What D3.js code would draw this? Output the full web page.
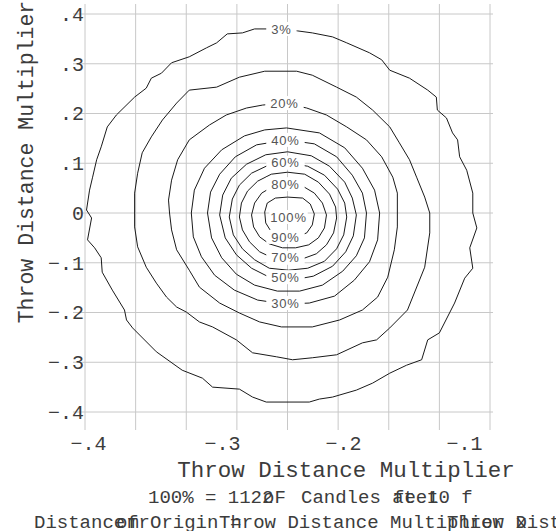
<!DOCTYPE html>
<html>
<head>
<meta charset="utf-8">
<script src="https://cdn.jsdelivr.net/npm/d3@7"></script>
<style>
body { margin: 0; background: #fff; }
svg { display: block; }
text { font-family: "Liberation Mono", "Courier New", monospace; fill: #3c3c3c; }
.grid line { stroke: #c8c8c8; stroke-width: 1; }
.contour { fill: none; stroke: #1a1a1a; stroke-width: 1; }
.lbl text { font-family: "Liberation Sans", Arial, sans-serif; font-size: 13px; fill: #555; letter-spacing: 0.8px; }
</style>
</head>
<body>
<svg width="556" height="531"></svg>
<script>
// grid + tick values (throw distance multiplier)
var gridValues = [-0.4, -0.3, -0.2, -0.1, 0, 0.1, 0.2, 0.3, 0.4];
var yTickValues = [0.4, 0.3, 0.2, 0.1, 0, -0.1, -0.2, -0.3, -0.4];
var xTickValues = [-0.4, -0.3, -0.2, -0.1];

// isocandela contours
var contour3 = [[-0.016,0.370],[0.020,0.366],[0.049,0.362],[0.089,0.354],[0.117,0.342],[0.162,0.322],[0.186,0.308],[0.202,0.287],[0.241,0.271],[0.277,0.247],[0.294,0.233],[0.296,0.207],[0.314,0.191],[0.326,0.161],[0.336,0.147],[0.340,0.113],[0.354,0.086],[0.366,0.040],[0.366,0],[0.374,-0.030],[0.360,-0.070],[0.366,-0.111],[0.350,-0.131],[0.330,-0.181],[0.300,-0.241],[0.277,-0.255],[0.265,-0.295],[0.235,-0.306],[0.202,-0.322],[0.168,-0.342],[0.136,-0.356],[0.089,-0.370],[0.063,-0.374],[0.043,-0.380],[-0.042,-0.380],[-0.069,-0.370],[-0.095,-0.354],[-0.148,-0.350],[-0.168,-0.332],[-0.208,-0.316],[-0.259,-0.279],[-0.306,-0.231],[-0.318,-0.215],[-0.322,-0.195],[-0.346,-0.155],[-0.366,-0.119],[-0.368,-0.090],[-0.381,-0.070],[-0.395,-0.054],[-0.387,-0.010],[-0.397,0.006],[-0.391,0.046],[-0.385,0.072],[-0.377,0.107],[-0.368,0.133],[-0.356,0.173],[-0.338,0.197],[-0.302,0.233],[-0.279,0.251],[-0.269,0.271],[-0.249,0.281],[-0.229,0.302],[-0.194,0.314],[-0.160,0.332],[-0.140,0.342],[-0.119,0.360],[-0.089,0.362],[-0.065,0.370]];
var contour10 = [[-0.045,0.285],[0.018,0.285],[0.049,0.277],[0.097,0.253],[0.136,0.233],[0.168,0.207],[0.202,0.173],[0.221,0.141],[0.241,0.107],[0.255,0.072],[0.271,0.032],[0.281,0],[0.281,-0.040],[0.271,-0.109],[0.237,-0.195],[0.202,-0.231],[0.176,-0.255],[0.148,-0.261],[0.097,-0.285],[0.049,-0.291],[0.010,-0.295],[-0.022,-0.289],[-0.069,-0.281],[-0.101,-0.255],[-0.148,-0.229],[-0.174,-0.219],[-0.200,-0.199],[-0.219,-0.189],[-0.239,-0.169],[-0.259,-0.141],[-0.279,-0.109],[-0.296,-0.068],[-0.302,-0.028],[-0.302,0],[-0.302,0.040],[-0.296,0.080],[-0.287,0.121],[-0.269,0.153],[-0.247,0.187],[-0.219,0.221],[-0.194,0.247],[-0.140,0.253],[-0.095,0.273]];
var contour20 = [[-0.006,0.221],[0.038,0.211],[0.077,0.197],[0.117,0.173],[0.156,0.147],[0.186,0.113],[0.208,0.072],[0.217,0.040],[0.217,0],[0.217,-0.028],[0.211,-0.074],[0.198,-0.129],[0.178,-0.169],[0.148,-0.195],[0.103,-0.215],[0.049,-0.229],[-0.012,-0.229],[-0.055,-0.219],[-0.095,-0.201],[-0.134,-0.181],[-0.174,-0.149],[-0.194,-0.115],[-0.219,-0.074],[-0.229,-0.034],[-0.233,0],[-0.235,0.026],[-0.229,0.066],[-0.217,0.107],[-0.194,0.147],[-0.154,0.177],[-0.121,0.197],[-0.081,0.211],[-0.049,0.217]];
var contour30 = [[-0.002,0.171],[0.063,0.161],[0.113,0.131],[0.148,0.090],[0.172,0.046],[0.182,0],[0.178,-0.054],[0.162,-0.098],[0.132,-0.135],[0.093,-0.167],[0.043,-0.181],[-0.006,-0.183],[-0.059,-0.175],[-0.105,-0.155],[-0.144,-0.125],[-0.170,-0.088],[-0.186,-0.048],[-0.190,0],[-0.184,0.046],[-0.164,0.090],[-0.130,0.127],[-0.085,0.155],[-0.045,0.167]];
var contour40 = [[-0.002,0.147],[0.053,0.139],[0.097,0.113],[0.128,0.076],[0.148,0.040],[0.156,0],[0.152,-0.050],[0.136,-0.086],[0.109,-0.117],[0.069,-0.145],[0.024,-0.157],[-0.020,-0.157],[-0.065,-0.145],[-0.101,-0.123],[-0.130,-0.090],[-0.150,-0.050],[-0.158,0],[-0.152,0.042],[-0.134,0.078],[-0.103,0.113],[-0.061,0.137]];
var contour50 = [[0,0.123],[0.047,0.115],[0.083,0.094],[0.113,0.062],[0.128,0.030],[0.136,-0.004],[0.130,-0.046],[0.115,-0.078],[0.089,-0.107],[0.051,-0.127],[0.008,-0.135],[-0.036,-0.129],[-0.071,-0.111],[-0.101,-0.084],[-0.123,-0.050],[-0.134,-0.004],[-0.128,0.036],[-0.111,0.070],[-0.081,0.098],[-0.043,0.117]];
var contour60 = [[0,0.101],[0.040,0.094],[0.073,0.076],[0.099,0.048],[0.113,0.020],[0.117,-0.008],[0.111,-0.044],[0.097,-0.072],[0.073,-0.097],[0.040,-0.111],[0.002,-0.115],[-0.036,-0.111],[-0.065,-0.094],[-0.089,-0.072],[-0.107,-0.044],[-0.115,-0.008],[-0.109,0.028],[-0.095,0.056],[-0.071,0.080],[-0.038,0.096]];
var contour70 = [[0,0.082],[0.034,0.078],[0.061,0.062],[0.083,0.038],[0.095,0.012],[0.097,-0.010],[0.091,-0.040],[0.077,-0.064],[0.057,-0.082],[0.030,-0.092],[0,-0.094],[-0.030,-0.090],[-0.055,-0.078],[-0.075,-0.058],[-0.089,-0.034],[-0.095,-0.008],[-0.091,0.020],[-0.079,0.044],[-0.059,0.064],[-0.032,0.078]];
var contour80 = [[0.002,0.058],[0.030,0.054],[0.053,0.040],[0.069,0.020],[0.077,-0.004],[0.073,-0.030],[0.061,-0.050],[0.042,-0.064],[0.016,-0.070],[-0.010,-0.070],[-0.036,-0.062],[-0.055,-0.048],[-0.067,-0.028],[-0.071,-0.004],[-0.065,0.020],[-0.051,0.040],[-0.028,0.054]];
var contour90 = [[0,0.032],[0.030,0.030],[0.045,0.018],[0.053,-0.002],[0.049,-0.024],[0.038,-0.040],[0.018,-0.048],[-0.010,-0.048],[-0.032,-0.038],[-0.043,-0.020],[-0.045,0.002],[-0.040,0.020],[-0.024,0.030]];

// contour labels
var labelText = ["3%", "20%", "40%", "60%", "80%", "100%", "90%", "70%", "50%", "30%"];
var labelX = [-0.012, -0.006, -0.004, -0.004, -0.004, 0.002, -0.004, -0.004, -0.004, -0.004];
var labelY = [0.370, 0.221, 0.147, 0.101, 0.058, -0.008, -0.048, -0.090, -0.129, -0.181];

// footnote pieces, as they come out overlapped in the picture
var foot1 = ["100% = 1122", "oF", "Candles at", "feet", "10 f"];
var foot1X = [148, 263, 301, 393, 427];
var foot2 = ["Distance", "om", "fr", "Origin", "Throw Distance Multiplier x", "=", "Throw Distance"];
var foot2X = [34, 116, 127, 150, 219, 230, 447];

var svg = d3.select("svg");

var x = d3.scaleLinear().domain([-0.4, 0.4]).range([85, 490]);
var y = d3.scaleLinear().domain([-0.4, 0.4]).range([412, 14]);

// gridlines
var grid = svg.append("g").attr("class", "grid");
grid.selectAll(".v").data(gridValues).enter().append("line")
    .attr("x1", function(d) { return x(d); })
    .attr("x2", function(d) { return x(d); })
    .attr("y1", y(0.4) - 10)
    .attr("y2", y(-0.4) + 18);
grid.selectAll(".h").data(gridValues).enter().append("line")
    .attr("y1", function(d) { return y(d); })
    .attr("y2", function(d) { return y(d); })
    .attr("x1", x(-0.4) - 12)
    .attr("x2", x(0.4) + 3);

// contours
var contours = [contour3, contour10, contour20, contour30, contour40, contour50, contour60, contour70, contour80, contour90];
var line = d3.line()
    .x(function(d) { return x(d[0]); })
    .y(function(d) { return y(d[1]); })
    .curve(d3.curveLinearClosed);

svg.append("g").selectAll("path").data(contours).enter().append("path")
    .attr("class", "contour")
    .attr("d", line);

// labels with white boxes
var lbl = svg.append("g").attr("class", "lbl")
    .selectAll("g").data(labelText).enter().append("g")
    .attr("transform", function(d, i) { return "translate(" + x(labelX[i]) + "," + y(labelY[i]) + ")"; });

lbl.append("text")
    .attr("text-anchor", "middle")
    .attr("dy", "0.36em")
    .text(function(d) { return d; });

lbl.each(function(d) {
    var g = d3.select(this);
    var bb = g.select("text").node().getBBox();
    var pad = d === "100%" ? 1 : 5;
    g.insert("rect", "text")
        .attr("x", bb.x - pad)
        .attr("y", -7)
        .attr("width", bb.width + pad * 2)
        .attr("height", 14)
        .attr("fill", "#fff");
});

// y axis
var fmt = function(d) { return d === 0 ? "0" : d3.format(".1f")(d).replace("0.", "."); };

var yAxis = svg.append("g")
    .attr("transform", "translate(" + 85 + ",0)")
    .call(d3.axisLeft(y).tickValues(yTickValues).tickFormat(fmt).tickSize(0).tickPadding(1));
yAxis.select(".domain").remove();
yAxis.selectAll("text")
    .attr("font-family", "Liberation Mono, monospace")
    .attr("font-size", 20)
    .attr("fill", "#3c3c3c");

// x axis labels (they do not sit on the gridlines in the original)
var xLab = d3.scaleLinear().domain(xTickValues).range([88, 222, 343, 464]);
var xAxis = svg.append("g")
    .attr("transform", "translate(0," + 432 + ")")
    .call(d3.axisBottom(xLab).tickValues(xTickValues).tickFormat(fmt).tickSize(0).tickPadding(4));
xAxis.select(".domain").remove();
xAxis.selectAll("text")
    .attr("font-family", "Liberation Mono, monospace")
    .attr("font-size", 20)
    .attr("fill", "#3c3c3c");

// titles
svg.append("text")
    .attr("x", 346).attr("y", 477)
    .attr("text-anchor", "middle")
    .style("font-size", "22.5px")
    .text("Throw Distance Multiplier");

svg.append("text")
    .attr("transform", "translate(" + 33 + "," + 162 + ") rotate(-90)")
    .attr("text-anchor", "middle")
    .style("font-size", "21.5px")
    .text("Throw Distance Multiplier");

// footnotes
svg.append("g").selectAll("text").data(foot1).enter().append("text")
    .attr("x", function(d, i) { return foot1X[i]; })
    .attr("y", 503)
    .style("font-size", "19px")
    .text(function(d) { return d; });

svg.append("g").selectAll("text").data(foot2).enter().append("text")
    .attr("x", function(d, i) { return foot2X[i]; })
    .attr("y", 528)
    .style("font-size", "19px")
    .text(function(d) { return d; });
</script>
</body>
</html>
